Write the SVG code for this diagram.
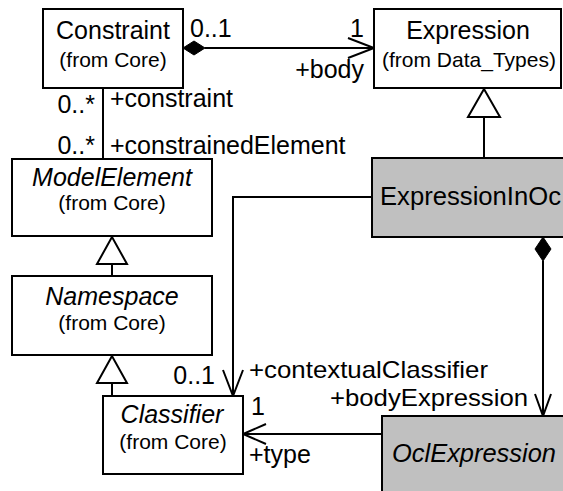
<svg xmlns="http://www.w3.org/2000/svg" width="563" height="491" viewBox="0 0 563 491">
  <style>
    .box { fill: #ffffff; stroke: #000000; stroke-width: 2; }
    .grey { fill: #c0c0c0; stroke: #000000; stroke-width: 2; }
    .line { fill: none; stroke: #000000; stroke-width: 2; }
    .open { fill: none; stroke: #000000; stroke-width: 2; stroke-linejoin: miter; }
    .hollow { fill: #ffffff; stroke: #000000; stroke-width: 2; }
    .solid { fill: #000000; stroke: #000000; stroke-width: 1; }
    text { font-family: "Liberation Sans", Arial, sans-serif; fill: #000000; }
    .title { font-size: 25px; text-anchor: middle; }
    .sub { font-size: 21px; text-anchor: middle; }
    .it { font-style: italic; }
    .lbl { font-size: 25px; }
    .sm { font-size: 24px; }
    .end { text-anchor: end; }
  </style>
  <rect x="0" y="0" width="563" height="491" fill="#ffffff"/>

  <!-- connectors -->
  <g id="connectors">
    <!-- Constraint to Expression (composition, navigable to Expression) -->
    <line class="line" x1="205" y1="48" x2="374" y2="48"/>
    <polygon class="solid" points="183,48 194,41 205,48 194,55"/>
    <polyline class="open" points="348,38 374,48 348,58"/>

    <!-- Constraint to ModelElement -->
    <line class="line" x1="103" y1="88" x2="103" y2="159"/>

    <!-- ExpressionInOcl generalizes Expression -->
    <line class="line" x1="484" y1="117" x2="484" y2="158"/>
    <polygon class="hollow" points="484,89 468,117 500,117"/>

    <!-- Namespace generalizes ModelElement -->
    <line class="line" x1="112" y1="264" x2="112" y2="276"/>
    <polygon class="hollow" points="112,237 97,264 127,264"/>

    <!-- Classifier generalizes Namespace -->
    <line class="line" x1="112" y1="383" x2="112" y2="396"/>
    <polygon class="hollow" points="112,356 97,383 127,383"/>

    <!-- ExpressionInOcl to Classifier (contextualClassifier) -->
    <polyline class="line" points="372,197 233,197 233,396"/>
    <polyline class="open" points="223,370 233,396 243,370"/>

    <!-- ExpressionInOcl to OclExpression (composition, bodyExpression) -->
    <line class="line" x1="543" y1="261" x2="543" y2="416"/>
    <polygon class="solid" points="543,237 551,249 543,261 535,249"/>
    <polyline class="open" points="535,394 543,416 551,394"/>

    <!-- OclExpression to Classifier (type) -->
    <line class="line" x1="243" y1="434" x2="382" y2="434"/>
    <polyline class="open" points="266,424 243,434 266,444"/>
  </g>

  <!-- association end labels -->
  <g id="labels">
    <text class="lbl" x="190" y="37">0..1</text>
    <text class="lbl end" x="364" y="37">1</text>
    <text class="lbl end" x="364" y="78">+body</text>
    <text class="lbl end" x="95" y="113">0..*</text>
    <text class="lbl" x="110" y="107">+constraint</text>
    <text class="lbl end" x="95" y="154">0..*</text>
    <text class="lbl" x="110" y="154">+constrainedElement</text>
    <text class="lbl end" x="215" y="384">0..1</text>
    <text class="sm" x="249" y="378" textLength="239" lengthAdjust="spacingAndGlyphs">+contextualClassifier</text>
    <text class="sm" x="330" y="406" textLength="198" lengthAdjust="spacingAndGlyphs">+bodyExpression</text>
    <text class="lbl" x="251" y="415">1</text>
    <text class="lbl" x="249" y="463">+type</text>
  </g>

  <g id="Constraint">
    <rect class="box" x="43" y="9" width="140" height="79"/>
    <text class="title" x="113" y="39">Constraint</text>
    <text class="sub" x="113" y="67">(from Core)</text>
  </g>

  <g id="Expression">
    <rect class="box" x="374" y="9" width="187" height="79"/>
    <text class="title" x="468" y="39">Expression</text>
    <text class="sub" x="469" y="67">(from Data_Types)</text>
  </g>

  <g id="ExpressionInOcl">
    <rect class="grey" x="372" y="158" width="200" height="79"/>
    <text class="lbl" x="380" y="205" textLength="181" lengthAdjust="spacingAndGlyphs">ExpressionInOc</text>
  </g>

  <g id="ModelElement">
    <rect class="box" x="12" y="159" width="200" height="77"/>
    <text class="title it" x="112" y="186">ModelElement</text>
    <text class="sub" x="112" y="210">(from Core)</text>
  </g>

  <g id="Namespace">
    <rect class="box" x="12" y="276" width="200" height="79"/>
    <text class="title it" x="112" y="305">Namespace</text>
    <text class="sub" x="112" y="330">(from Core)</text>
  </g>

  <g id="Classifier">
    <rect class="box" x="103" y="396" width="140" height="78"/>
    <text class="title it" x="172" y="423">Classifier</text>
    <text class="sub" x="173" y="449">(from Core)</text>
  </g>

  <g id="OclExpression">
    <rect class="grey" x="382" y="416" width="200" height="90"/>
    <text class="lbl it" x="392" y="462" textLength="164" lengthAdjust="spacingAndGlyphs">OclExpression</text>
  </g>
</svg>
